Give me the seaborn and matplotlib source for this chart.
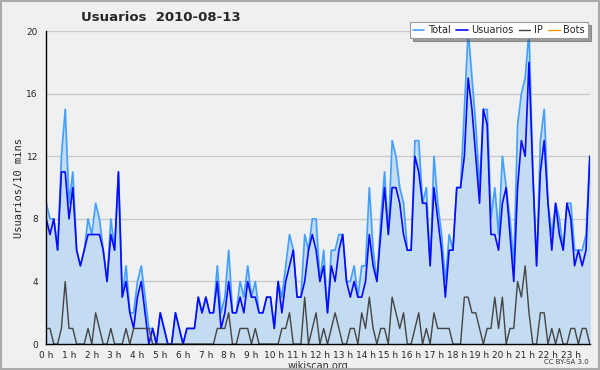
import numpy as np
import pandas as pd
import matplotlib
matplotlib.use("Agg")
import matplotlib.pyplot as plt
import seaborn as sns

# Users per 10 minutes, 2010-08-13 (144 slots)
usuarios = [8, 7, 8, 6, 11, 11, 8, 10, 6, 5, 6, 7, 7, 7, 7, 6, 4, 7, 6, 11, 3, 4, 2,
            1, 3, 4, 2, 0, 1, 0, 2, 1, 0, 0, 2, 1, 0, 1, 1, 1, 3, 2, 3, 2, 2, 4, 1,
            2, 4, 2, 2, 3, 2, 4, 3, 3, 2, 2, 3, 3, 1, 4, 2, 4, 5, 6, 3, 3, 4, 6, 7, 6, 4,
            5, 2, 5, 4, 6, 7, 4, 3, 4, 3, 3, 4, 7, 5, 4, 7, 10, 7, 10, 10, 9, 7, 6,
            6, 12, 11, 9, 9, 5, 10, 8, 6, 3, 6, 6, 10, 10, 12, 17, 15, 12, 9, 15, 14, 7, 7,
            6, 9, 10, 7, 4, 10, 13, 12, 18, 11, 5, 11, 13, 9, 6, 9, 7, 6, 9, 8, 5, 6, 5, 6, 12]
ip = [1, 1, 0, 0, 1, 4, 1, 1, 0, 0, 0, 1, 0, 2, 1, 0, 0, 1, 0, 0, 0, 1, 0,
      1, 1, 1, 1, 1, 0, 0, 0, 0, 0, 0, 0, 0, 0, 0, 0, 0, 0, 0, 0, 0, 0, 1, 1,
      1, 2, 0, 0, 1, 1, 1, 0, 1, 0, 0, 0, 0, 0, 0, 1, 1, 2, 0, 0, 0, 3, 0, 1, 2, 0,
      1, 0, 1, 2, 1, 0, 0, 1, 1, 0, 2, 1, 3, 1, 0, 1, 1, 0, 3, 2, 1, 2, 0,
      0, 1, 2, 0, 1, 0, 2, 1, 1, 1, 1, 0, 0, 0, 3, 3, 2, 2, 1, 0, 1, 1, 3,
      1, 3, 0, 1, 1, 4, 3, 5, 2, 0, 0, 2, 2, 0, 1, 0, 1, 0, 0, 1, 1, 0, 1, 1, 0]
total = [9, 8, 8, 6, 12, 15, 9, 11, 6, 5, 6, 8, 7, 9, 8, 6, 4, 8, 6, 11, 3, 5, 2,
         2, 4, 5, 3, 1, 1, 0, 2, 1, 0, 0, 2, 1, 0, 1, 1, 1, 3, 2, 3, 2, 2, 5, 2,
         3, 6, 2, 2, 4, 3, 5, 3, 4, 2, 2, 3, 3, 1, 4, 3, 5, 7, 6, 3, 3, 7, 6, 8, 8, 4,
         6, 2, 6, 6, 7, 7, 4, 4, 5, 3, 5, 5, 10, 6, 4, 8, 11, 7, 13, 12, 10, 9, 6,
         6, 13, 13, 9, 10, 5, 12, 9, 7, 4, 7, 6, 10, 10, 15, 20, 17, 14, 10, 15, 15, 8, 10,
         7, 12, 10, 8, 5, 14, 16, 17, 20, 11, 5, 13, 15, 9, 7, 9, 8, 6, 9, 9, 6, 6, 6, 7, 12]
bots = [0] * 144
hour_labels = [f"{h} h" for h in range(24)]

df = pd.DataFrame({"slot": np.arange(144), "Total": total, "Usuarios": usuarios,
                   "IP": ip, "Bots": bots})

sns.set_style("white")
plt.rcParams["font.family"] = ["DejaVu Sans"]

fig = plt.figure(figsize=(6, 3.7), dpi=100, facecolor="#f0f0f0")
ax = fig.add_axes([0.077, 0.070, 0.906, 0.846])
ax.set_facecolor("#eef0f2")

ax.fill_between(df["slot"], df["Total"], color="#c4dcf1", zorder=1)
sns.lineplot(data=df, x="slot", y="Bots", color="#ff9900", lw=1, ax=ax, label="Bots", zorder=0.5)
sns.lineplot(data=df, x="slot", y="Total", color="#44a0ff", lw=1.2, ax=ax, label="Total", zorder=3)
sns.lineplot(data=df, x="slot", y="Usuarios", color="#0a0aff", lw=1.2, ax=ax, label="Usuarios", zorder=4)
sns.lineplot(data=df, x="slot", y="IP", color="#444444", lw=1, ax=ax, label="IP", zorder=5)

ax.set_xlim(0, 143)
ax.set_ylim(0, 20)
ax.set_yticks([0, 4, 8, 12, 16, 20])
ax.set_yticks(range(21), minor=True)
ax.set_xticks(range(0, 144, 6))
ax.set_xticklabels(hour_labels)
ax.set_xticks(range(144), minor=True)
ax.grid(axis="y", color="#c8c8c8", lw=0.9)
ax.set_axisbelow(True)
ax.tick_params(axis="both", which="major", labelsize=6.5, length=5, width=0.8,
               color="black", pad=1)
ax.tick_params(axis="both", which="minor", length=3, width=0.6, color="black")
ax.tick_params(axis="x", which="major", length=4)

for side in ["top", "right"]:
    ax.spines[side].set_visible(False)
for side in ["left", "bottom"]:
    ax.spines[side].set_color("black")
    ax.spines[side].set_linewidth(1)
    ax.spines[side].set_zorder(6)

ax.set_xlabel("wikiscan.org", fontsize=7, labelpad=1, color="#333333")
ax.set_ylabel("Usuarios/10 mins", fontsize=7.5, family="DejaVu Sans Mono", labelpad=2)

handles, labels = ax.get_legend_handles_labels()
order = [labels.index(n) for n in ["Total", "Usuarios", "IP", "Bots"]]
leg = ax.legend([handles[i] for i in order], [labels[i] for i in order],
                loc="upper right", bbox_to_anchor=(0.980, 0.940),
                bbox_transform=fig.transFigure, ncol=4, fontsize=7,
                frameon=True, fancybox=False, shadow=True, framealpha=1,
                edgecolor="#999999", borderpad=0.3, handlelength=1.2,
                handletextpad=0.4, columnspacing=0.5, borderaxespad=0)
leg.get_frame().set_linewidth(0.8)

fig.text(0.135, 0.953, "Usuarios  2010-08-13", fontsize=9.5, fontweight="bold",
         ha="left", va="center")
fig.text(0.982, 0.022, "CC BY-SA 3.0", fontsize=5, ha="right", va="center",
         color="#333333")

border = plt.Rectangle((0.001, 0.002), 0.997, 0.995, transform=fig.transFigure,
                       fill=False, edgecolor="#aaaaaa", lw=1.5)
fig.patches.append(border)

fig.savefig("out.png", dpi=100, facecolor=fig.get_facecolor())
